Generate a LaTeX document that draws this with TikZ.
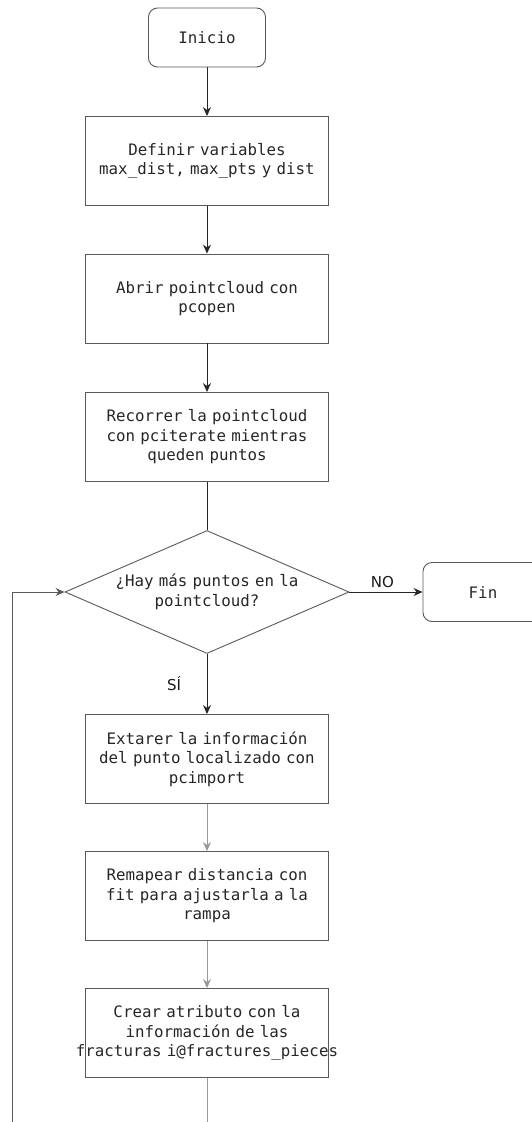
\documentclass[tikz,border=0pt]{standalone}
\usepackage{fontspec}
\setmonofont{DejaVu Sans Mono}
\setsansfont{DejaVu Sans}
\usetikzlibrary{arrows.meta,shapes.geometric}

\begin{document}
\begin{tikzpicture}[
  x=1pt,y=-1pt,
  >={Stealth[length=9pt,width=8pt]},
  box/.style={draw=black!65,line width=0.9pt,align=center,inner sep=0pt,
              minimum width=243pt,minimum height=89pt,text width=232pt,
              font=\ttfamily\fontsize{15.8}{19.5}\selectfont,text=black!85},
  term/.style={box,rounded corners=9pt,minimum width=117pt,minimum height=59pt,
               text width=100pt},
  dec/.style={diamond,aspect=2.31,draw=black!65,line width=0.9pt,align=center,
              inner sep=0pt,minimum width=284pt,minimum height=123pt,text width=200pt,
              font=\ttfamily\fontsize{15.8}{19.5}\selectfont,text=black!85},
  arr/.style={->,line width=1pt,draw=black!85},
  lin/.style={line width=1pt,draw=black!85},
  arrg/.style={->,line width=1pt,draw=black!40},
  ling/.style={line width=1pt,draw=black!40},
  lbl/.style={font=\sffamily\fontsize{15}{17}\selectfont,text=black!90}
]
\clip (0,0) rectangle (532,1122);
\node[term] (inicio) at (207,37.5) {Inicio};
\node[box] (definir) at (207,161) {Definir variables\\max\_dist, max\_pts y dist};
\node[box] (abrir) at (207,298.5) {Abrir pointcloud con\\pcopen};
\node[box] (recorrer) at (207,437) {Recorrer la pointcloud\\con pciterate mientras\\queden puntos};
\node[dec] (cond) at (207,592) {¿Hay más puntos en la\\pointcloud?};
\node[term,minimum width=120pt] (fin) at (483,592) {Fin};
\node[box] (extraer) at (207,759) {Extarer la información\\del punto localizado con\\pcimport};
\node[box] (remapear) at (207,896) {Remapear distancia con\\fit para ajustarla a la\\rampa};
\node[box] (crear) at (207,1033) {Crear atributo con la\\información de las\\\makebox[\linewidth]{fracturas i@fractures\_pieces}};
\coordinate (salida) at (207,1122);
\coordinate (vuelta) at (12,1122);

\draw[arr] (inicio) -- (definir);
\draw[arr] (definir) -- (abrir);
\draw[arr] (abrir) -- (recorrer);
\draw[lin] (recorrer) -- (cond);
\draw[arr] (cond) -- node[lbl,above,pos=0.45] {NO} (fin);
\draw[arr] (cond) -- node[lbl,left=22pt] {SÍ} (extraer);
\draw[arrg] (extraer) -- (remapear);
\draw[arrg] (remapear) -- (crear);
\draw[ling] (crear) -- (salida);
\draw[line width=1pt,draw=black!65,->] (vuelta) |- (cond.west);
\end{tikzpicture}
\end{document}
